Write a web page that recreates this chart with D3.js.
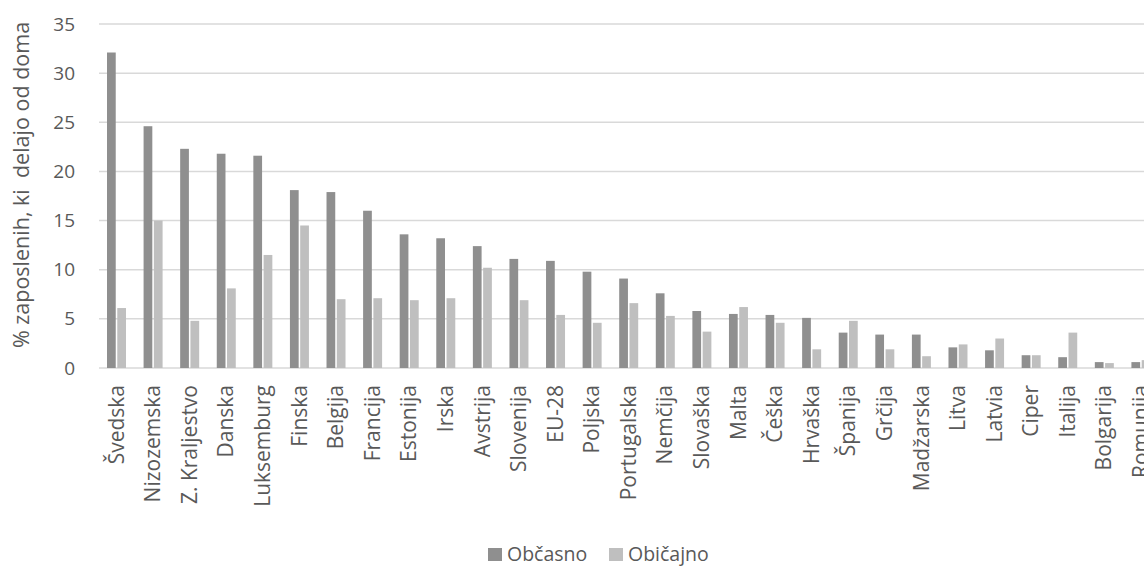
<!DOCTYPE html>
<html>
<head>
<meta charset="utf-8">
<script src="https://cdn.jsdelivr.net/npm/d3@7"></script>
<style>
  body { margin: 0; background: #fff; overflow: hidden; }
  text { font-family: "Open Sans", sans-serif; fill: #595959; }
</style>
</head>
<body>
<script>
// countries in the order of the chart
const countries = ["Švedska", "Nizozemska", "Z. Kraljestvo", "Danska", "Luksemburg", "Finska", "Belgija",
  "Francija", "Estonija", "Irska", "Avstrija", "Slovenija", "EU-28", "Poljska", "Portugalska", "Nemčija",
  "Slovaška", "Malta", "Češka", "Hrvaška", "Španija", "Grčija", "Madžarska", "Litva", "Latvia", "Ciper",
  "Italija", "Bolgarija", "Romunija"];
const obcasno = [32.1, 24.6, 22.3, 21.8, 21.6, 18.1, 17.9, 16.0, 13.6, 13.2, 12.4, 11.1, 10.9, 9.8, 9.1, 7.6,
  5.8, 5.5, 5.4, 5.1, 3.6, 3.4, 3.4, 2.1, 1.8, 1.3, 1.1, 0.6, 0.6];
const obicajno = [6.1, 15.0, 4.8, 8.1, 11.5, 14.5, 7.0, 7.1, 6.9, 7.1, 10.2, 6.9, 5.4, 4.6, 6.6, 5.3,
  3.7, 6.2, 4.6, 1.9, 4.8, 1.9, 1.2, 2.4, 3.0, 1.3, 3.6, 0.5, 0.8];
const seriesNames = ["Občasno", "Običajno"];
const yTicks = [0, 5, 10, 15, 20, 25, 30, 35];

const width = 1144, height = 567;
const colors = ["#8f8f8f", "#bfbfbf"];

const svg = d3.select("body").append("svg")
  .attr("width", width)
  .attr("height", height);

// plot runs off the right edge, like the original
const x = d3.scaleBand().domain(countries).range([99, 1160]);
const xs = d3.scaleBand().domain(seriesNames).range([8, 27]).paddingInner(0.15);
const y = d3.scaleLinear().domain([0, 35]).range([368, 24]);

// gridlines
svg.append("g")
  .selectAll("line")
  .data(yTicks)
  .join("line")
  .attr("x1", 99).attr("x2", 1160)
  .attr("y1", d => y(d)).attr("y2", d => y(d))
  .attr("stroke", "#d9d9d9")
  .attr("stroke-width", 1.5);

// y axis labels
const yAxis = svg.append("g")
  .attr("transform", "translate(80,0)")
  .call(d3.axisLeft(y).tickValues(yTicks).tickSize(0).tickPadding(5));
yAxis.select(".domain").remove();
yAxis.selectAll("text").attr("font-size", 19).style("font-family", "Open Sans");

// bars
const rows = countries.map((c, i) => ({ c, vals: [obcasno[i], obicajno[i]] }));
const groups = svg.append("g")
  .selectAll("g")
  .data(rows)
  .join("g")
  .attr("transform", d => `translate(${x(d.c)},0)`);
groups.selectAll("rect")
  .data(d => d.vals.map((v, k) => ({ k, v })))
  .join("rect")
  .attr("x", d => xs(seriesNames[d.k]))
  .attr("width", xs.bandwidth())
  .attr("y", d => y(d.v))
  .attr("height", d => y(0) - y(d.v))
  .attr("fill", d => colors[d.k]);

// category labels
const xAxis = svg.append("g")
  .attr("transform", "translate(0,368)")
  .call(d3.axisBottom(x).tickSize(0).tickPadding(0));
xAxis.select(".domain").remove();
xAxis.selectAll("text")
  .attr("font-size", 21)
  .style("font-family", "Open Sans")
  .attr("transform", "rotate(-90)")
  .attr("text-anchor", "end")
  .attr("dy", "0.35em")
  .attr("x", -17)
  .attr("y", -1);

// y title
svg.append("text")
  .attr("transform", "translate(29,185) rotate(-90)")
  .attr("text-anchor", "middle")
  .attr("font-size", 21.5)
  .style("white-space", "pre")
  .text("% zaposlenih, ki  delajo od doma");

// legend
const legend = svg.append("g");
const legendX = [488, 609];
seriesNames.forEach((s, i) => {
  legend.append("rect")
    .attr("x", legendX[i]).attr("y", 548)
    .attr("width", 14).attr("height", 13)
    .attr("fill", colors[i]);
  legend.append("text")
    .attr("x", legendX[i] + 19).attr("y", 561)
    .attr("font-size", 19.5)
    .text(s);
});
</script>
</body>
</html>
